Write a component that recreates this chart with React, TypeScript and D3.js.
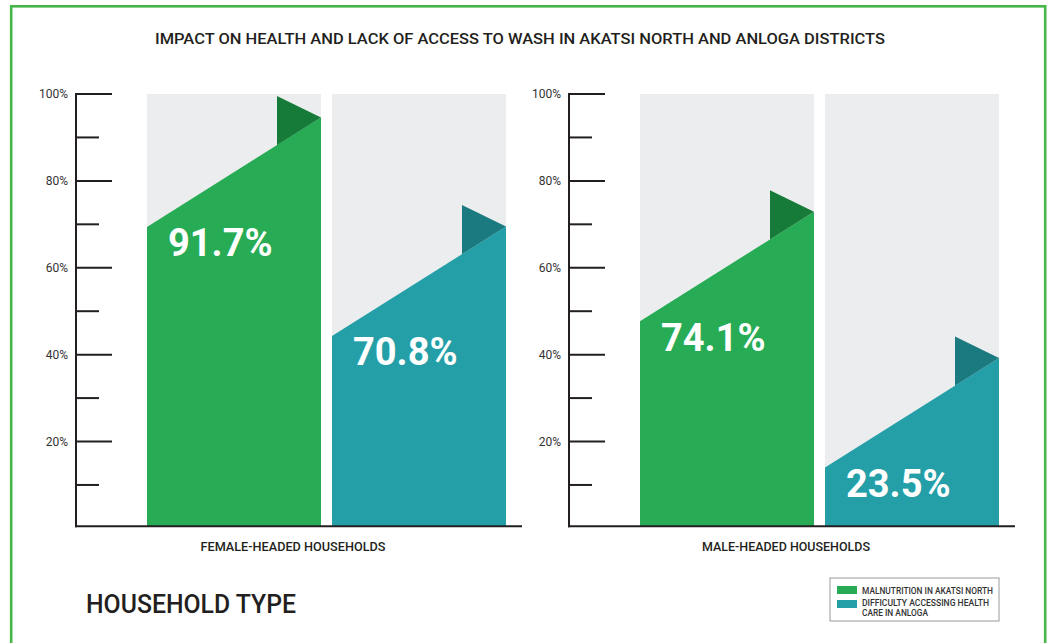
import React from "react";
import * as d3 from "d3";

// ---- data ----
const title = "IMPACT ON HEALTH AND LACK OF ACCESS TO WASH IN AKATSI NORTH AND ANLOGA DISTRICTS";
const groups = ["FEMALE-HEADED HOUSEHOLDS", "MALE-HEADED HOUSEHOLDS"];
const seriesNames = ["MALNUTRITION IN AKATSI NORTH", "DIFFICULTY ACCESSING HEALTH CARE IN ANLOGA"];
const malnutritionValues = [91.7, 74.1];
const healthcareValues = [70.8, 23.5];
// ribbon tip heights as drawn in the infographic (%)
const malnutritionRibbon = [94.6, 72.9];
const healthcareRibbon = [69.5, 39.2];
const majorTicks = [20, 40, 60, 80, 100];
const minorTicks = [10, 30, 50, 70, 90];
const xAxisTitle = "HOUSEHOLD TYPE";

const colors = ["#27AB54", "#249FA8"];
const flagColors = ["#167B39", "#1A7A80"];
const ink = "#231F20";
const font = "Roboto, 'Noto Sans', sans-serif";

const W = 1049;
const H = 643;

export default function App() {
  const y = d3.scaleLinear().domain([0, 100]).range([528.4, 94]);
  const base = y(0.5);
  const panelX = d3.scaleBand<string>().domain(groups).range([76, 76 + 493 * 2]).paddingInner(0);
  const slope = 25.2; // ribbon rise in % across a bar
  const flagRise = 4.95; // %

  const panels = groups.map((g, gi) => {
    const x0 = panelX(g)!;
    const xb = d3.scaleBand<string>().domain(seriesNames).range([x0 + 71, x0 + 430]).paddingInner(0.0595);
    const vals = [malnutritionValues[gi], healthcareValues[gi]];
    const tips = [malnutritionRibbon[gi], healthcareRibbon[gi]];
    const bw = xb.bandwidth();
    const flagW = bw * 0.253;
    return (
      <g key={g}>
        {seriesNames.map((s, si) => {
          const bx = xb(s)!;
          const tip = tips[si];
          const left = tip - slope;
          const ribbon = d3.line()([
            [bx, base],
            [bx, y(left)],
            [bx + bw, y(tip)],
            [bx + bw, base],
          ]) + "Z";
          const flag = d3.line()([
            [bx + bw - flagW, y(tip + flagRise)],
            [bx + bw, y(tip)],
            [bx + bw - flagW, y(tip - (slope * flagW) / bw)],
          ]) + "Z";
          return (
            <g key={s}>
              <rect x={bx} y={y(100)} width={bw} height={base - y(100)} fill="#ECEDEF" />
              <path d={ribbon} fill={colors[si]} />
              <path d={flag} fill={flagColors[si]} />
              <text x={bx + 21} y={y(left) + 29.5} fill="#fff" fontSize={38} fontWeight={700} fontFamily={font}>
                {vals[si].toFixed(1)}%
              </text>
            </g>
          );
        })}
        {/* axes */}
        <line x1={x0} x2={x0} y1={y(100) - 1} y2={base + 1} stroke={ink} strokeWidth={2} />
        <line x1={x0 - 1} x2={x0 + 446} y1={base} y2={base} stroke={ink} strokeWidth={2} />
        {majorTicks.map((t) => (
          <g key={"M" + t}>
            <line x1={x0} x2={x0 + 36} y1={y(t)} y2={y(t)} stroke={ink} strokeWidth={2} />
            <text x={x0 - 8} y={y(t)} dy="0.35em" textAnchor="end" fontSize={12} fill="#333" fontFamily={font}>
              {t}%
            </text>
          </g>
        ))}
        {minorTicks.map((t) => (
          <line key={"m" + t} x1={x0} x2={x0 + 23} y1={y(t)} y2={y(t)} stroke={ink} strokeWidth={2} />
        ))}
        <text x={x0 + 217} y={551} textAnchor="middle" fontSize={12.5} fontWeight={500} fill={ink} fontFamily={font}
          textLength={gi === 0 ? 185 : 168} lengthAdjust="spacingAndGlyphs">
          {g}
        </text>
      </g>
    );
  });

  return (
    <svg width={W} height={H} style={{ position: "absolute", left: 0, top: 0, background: "#fff" }}>
      <rect x={11.2} y={6.3} width={1034} height={700} fill="none" stroke="#46B649" strokeWidth={2.6} />
      <text x={520} y={44} textAnchor="middle" fontSize={15} fontWeight={500} fill={ink} fontFamily={font}
        textLength={730} lengthAdjust="spacingAndGlyphs">
        {title}
      </text>
      {panels}
      <text x={86} y={613} fontSize={25} fontWeight={500} fill={ink} fontFamily={font}
        textLength={210} lengthAdjust="spacingAndGlyphs">
        {xAxisTitle}
      </text>
      <g>
        <rect x={830} y={578} width={169} height={43} fill="#fff" stroke="#9A9A9A" strokeWidth={1} />
        <rect x={837} y={586} width={20} height={8} fill={colors[0]} />
        <rect x={837} y={600} width={20} height={8} fill={colors[1]} />
        <text x={862} y={593.5} fontSize={9} fontWeight={500} fill="#333" fontFamily={font}
          textLength={131} lengthAdjust="spacingAndGlyphs">
          {seriesNames[0]}
        </text>
        <text x={862} y={606} fontSize={9} fontWeight={500} fill="#333" fontFamily={font}
          textLength={127} lengthAdjust="spacingAndGlyphs">
          DIFFICULTY ACCESSING HEALTH
        </text>
        <text x={862} y={615.5} fontSize={9} fontWeight={500} fill="#333" fontFamily={font}
          textLength={66} lengthAdjust="spacingAndGlyphs">
          CARE IN ANLOGA
        </text>
      </g>
    </svg>
  );
}
